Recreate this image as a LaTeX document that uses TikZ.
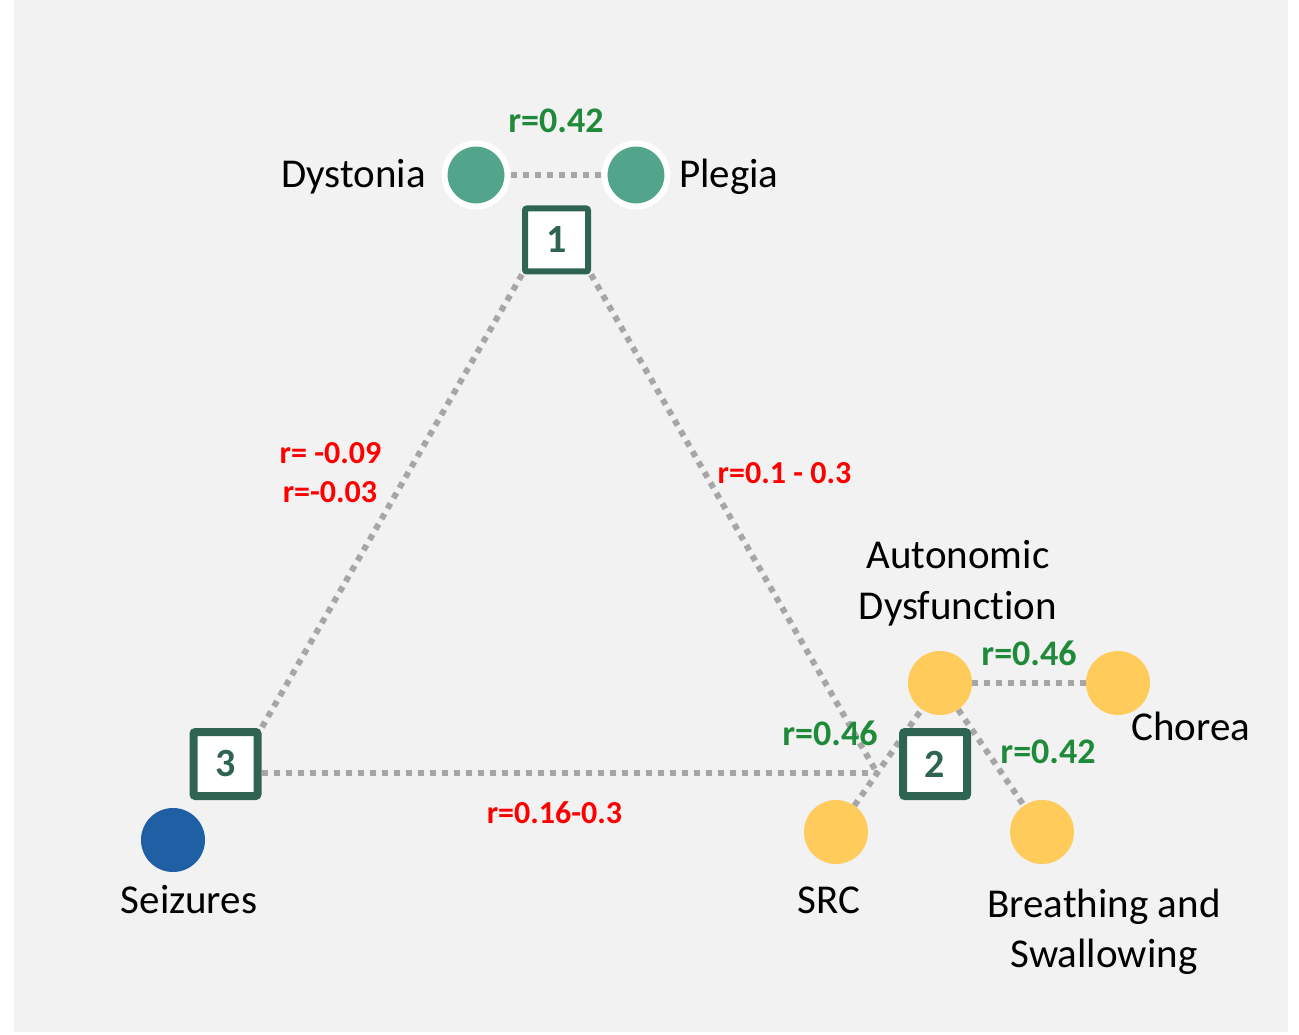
\documentclass[tikz,border=0pt]{standalone}
\usepackage{fontspec}
\setmainfont{Carlito}[Ligatures={NoCommon}]
\pgfdeclarelayer{bg}
\pgfdeclarelayer{lines}
\pgfsetlayers{bg,lines,main}
\definecolor{bggray}{HTML}{F2F2F2}
\definecolor{teal}{HTML}{52A48B}
\definecolor{yel}{HTML}{FFCC5C}
\definecolor{blu}{HTML}{1F5FA3}
\definecolor{boxgreen}{HTML}{2F6352}
\definecolor{txtgreen}{HTML}{1F8B3A}
\definecolor{dotgray}{HTML}{A6A6A6}
\tikzset{
  dotline/.style={draw=dotgray, line width=6pt, dash pattern=on 6pt off 6pt},
  tealdot/.style={circle, fill=teal, draw=white, line width=6pt, minimum size=63pt, inner sep=0pt},
  yeldot/.style={circle, fill=yel, minimum size=64pt, inner sep=0pt},
  bludot/.style={circle, fill=blu, minimum size=64pt, inner sep=0pt},
  numbox/.style={draw=boxgreen, fill=white, line width=8pt, minimum size=64pt, inner sep=0pt, rounded corners=2pt, text=boxgreen, font=\fontsize{40}{42}\selectfont\bfseries},
  lbl/.style={inner sep=0pt, font=\fontsize{41}{50}\selectfont},
  glbl/.style={inner sep=0pt, text=txtgreen, font=\fontsize{36}{40}\selectfont\bfseries},
  rlbl/.style={inner sep=0pt, text=red, font=\fontsize{32}{36}\selectfont\bfseries}
}
\begin{document}
\begin{tikzpicture}[x=1pt,y=-1pt]
\useasboundingbox (0,0) rectangle (1299,1035);
\begin{pgfonlayer}{bg}
\fill[bggray] (14,0) rectangle (1288,1032);
\end{pgfonlayer}
% nodes
\node[tealdot] (dys) at (476,175) {};
\node[tealdot] (ple) at (636,175) {};
\node[numbox, line width=6pt, minimum size=63pt] (b1) at (556.5,240) {1};
\node[numbox] (b2) at (935,764) {2};
\node[numbox] (b3) at (225.5,764) {3};
\node[yeldot] (aut) at (940,683) {};
\node[yeldot] (cho) at (1118,683) {};
\node[yeldot] (src) at (836,832) {};
\node[yeldot] (bre) at (1042,832) {};
\node[bludot] (sei) at (173,840) {};
\coordinate (J) at (877,773);
% lines
\begin{pgfonlayer}{lines}
\draw[dotline] (dys) -- (ple);
\draw[dotline] (b1.south west) -- (b3.north east);
\draw[dotline] (b1.south east) -- (J);
\draw[dotline] (b3.east |- J) -- (J);
\draw[dotline] (src) -- (aut);
\draw[dotline] (aut) -- (cho);
\draw[dotline] (aut) -- (bre);
\end{pgfonlayer}
% labels
\node[lbl, anchor=base east] (tdys) at (426,188) {Dystonia};
\node[lbl, anchor=base west] (tple) at (679,188) {Plegia};
\node[lbl, anchor=base] (tsei) at (189,913) {Seizures};
\node[lbl, anchor=base] (tsrc) at (829,913) {SRC};
\node[lbl, anchor=base] (taut1) at (958,568) {Autonomic};
\node[lbl, anchor=base] (taut2) at (958,619) {Dysfunction};
\node[lbl, anchor=base] (tcho) at (1191,740) {Chorea};
\node[lbl, anchor=base] (tbre1) at (1104,917) {Breathing and};
\node[lbl, anchor=base] (tbre2) at (1104,967) {Swallowing};
% green r labels
\node[glbl, anchor=base] (g1) at (556,133) {r=0.42};
\node[glbl, anchor=base] (g2) at (1029,665) {r=0.46};
\node[glbl, anchor=base] (g3) at (830,745) {r=0.46};
\node[glbl, anchor=base] (g4) at (1048,763) {r=0.42};
% red r labels
\node[rlbl, anchor=base] (r1) at (330.5,463) {r= -0.09};
\node[rlbl, anchor=base] (r2) at (330,502) {r=-0.03};
\node[rlbl, anchor=base] (r3) at (784.5,483) {r=0.1 - 0.3};
\node[rlbl, anchor=base] (r4) at (554.5,823) {r=0.16-0.3};
\end{tikzpicture}
\end{document}
